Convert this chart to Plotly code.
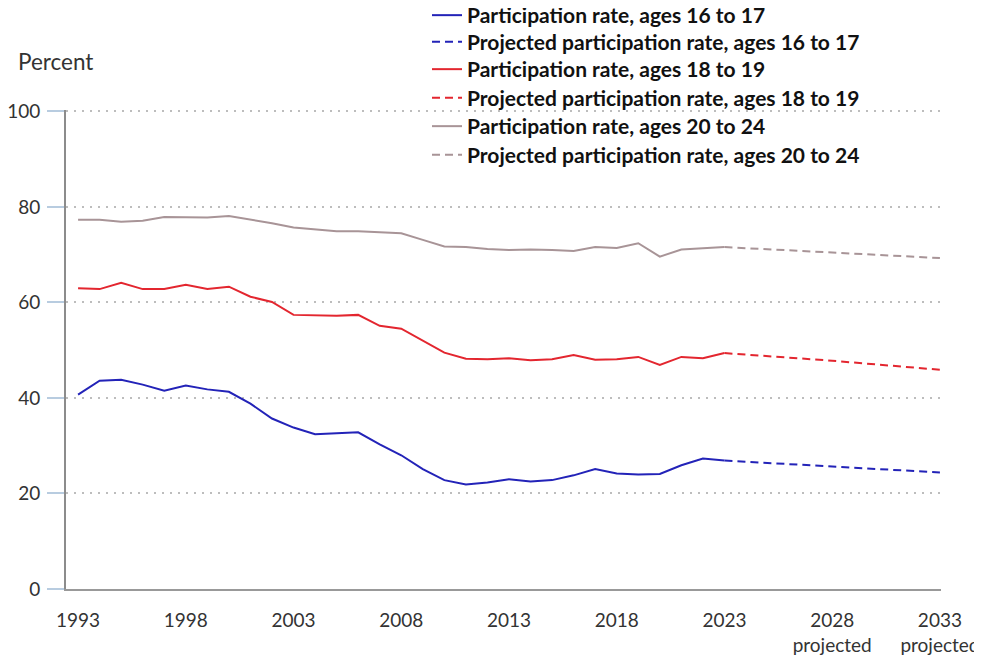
import plotly.graph_objects as go

years = list(range(1993, 2024))
proj_years = [2023, 2028, 2033]

rate_16_17 = [40.7, 43.6, 43.8, 42.8, 41.5, 42.6, 41.8, 41.3, 38.8, 35.7, 33.8, 32.4, 32.6, 32.8,
              30.3, 28.0, 25.1, 22.8, 21.9, 22.3, 23.0, 22.5, 22.8, 23.8, 25.1, 24.2, 24.0, 24.1,
              25.9, 27.3, 26.9]
proj_16_17 = [26.9, 25.7, 24.4]

rate_18_19 = [63.0, 62.8, 64.1, 62.8, 62.8, 63.7, 62.8, 63.3, 61.2, 60.1, 57.4, 57.3, 57.2, 57.4,
              55.1, 54.5, 52.0, 49.5, 48.2, 48.1, 48.3, 47.9, 48.1, 49.0, 48.0, 48.1, 48.6, 46.9,
              48.6, 48.3, 49.4]
proj_18_19 = [49.4, 47.8, 45.9]

rate_20_24 = [77.3, 77.3, 76.9, 77.1, 77.9, 77.8, 77.8, 78.1, 77.4, 76.6, 75.7, 75.3, 74.9, 74.9,
              74.7, 74.5, 73.1, 71.7, 71.6, 71.2, 71.0, 71.1, 71.0, 70.8, 71.6, 71.4, 72.4, 69.6,
              71.1, 71.3, 71.6]
proj_20_24 = [71.6, 70.5, 69.3]

tick_vals = [1993, 1998, 2003, 2008, 2013, 2018, 2023, 2028, 2033]
tick_text = ["1993", "1998", "2003", "2008", "2013", "2018", "2023",
             "2028<br><span style='font-size:19px'>projected</span>",
             "2033<br><span style='font-size:19px'>projected</span>"]

BLUE = "#2323b8"
RED = "#e3262f"
GRAY = "#a89497"

series = [
    ("Participation rate, ages 16 to 17", years, rate_16_17, BLUE, "solid"),
    ("Projected participation rate, ages 16 to 17", proj_years, proj_16_17, BLUE, "8px,5px"),
    ("Participation rate, ages 18 to 19", years, rate_18_19, RED, "solid"),
    ("Projected participation rate, ages 18 to 19", proj_years, proj_18_19, RED, "8px,5px"),
    ("Participation rate, ages 20 to 24", years, rate_20_24, GRAY, "solid"),
    ("Projected participation rate, ages 20 to 24", proj_years, proj_20_24, GRAY, "8px,5px"),
]
row_centers = [15.5, 42, 69.5, 98, 126.5, 155]  # page pixels

L, T, PW, PH = 58, 102, 875, 479
OFF = 8  # page body margin
fig = go.Figure()
legend_layout = {}
for i, (name, xs, ys, col, dash) in enumerate(series):
    key = "legend" if i == 0 else f"legend{i + 1}"
    fig.add_trace(go.Scatter(x=xs, y=ys, mode="lines", name=name, legend=key,
                             showlegend=True, line=dict(color=col, width=2, dash=dash)))
    center_fig = row_centers[i] - OFF
    legend_layout[key] = dict(
        x=(419 - L) / PW, y=1 + (T - center_fig) / PH, xanchor="left", yanchor="middle",
        font=dict(family="Lato, sans-serif", size=21, weight=700, color="#111"),
        bgcolor="rgba(0,0,0,0)")

fig.update_layout(
    width=974, height=651, showlegend=True,
    margin=dict(l=L, r=974 - L - PW, t=T, b=651 - T - PH, autoexpand=False),
    paper_bgcolor="white", plot_bgcolor="white",
    font=dict(family="Lato, sans-serif", size=19, color="#222"),
    xaxis=dict(range=[1992.44, 2033.05], tickmode="array", tickvals=tick_vals,
               ticktext=tick_text, showgrid=False, showline=True, linecolor="#999",
               linewidth=2, ticks="outside", ticklen=13, tickcolor="rgba(0,0,0,0)",
               zeroline=False, ticklabeloverflow="allow",
               tickfont=dict(size=19, color="#333")),
    yaxis=dict(range=[0, 100.3], tickvals=[0, 20, 40, 60, 80, 100], showgrid=True,
               gridcolor="#bdbdbd", griddash="2px,6px", gridwidth=2, showline=True,
               linecolor="#8c8c8c", linewidth=2, ticks="outside", ticklen=17,
               tickcolor="#b8cce0", tickwidth=2, zeroline=False, ticklabelstandoff=3,
               ticklabeloverflow="allow", tickfont=dict(size=19, color="#333")),
    **legend_layout,
)
fig.add_annotation(text="Percent", xref="paper", yref="paper",
                   x=(8 - L) / PW, y=1 + (T - 54) / PH, xanchor="left", yanchor="middle",
                   showarrow=False, font=dict(size=22.5, color="#333"))

fig.write_html("out.html")
